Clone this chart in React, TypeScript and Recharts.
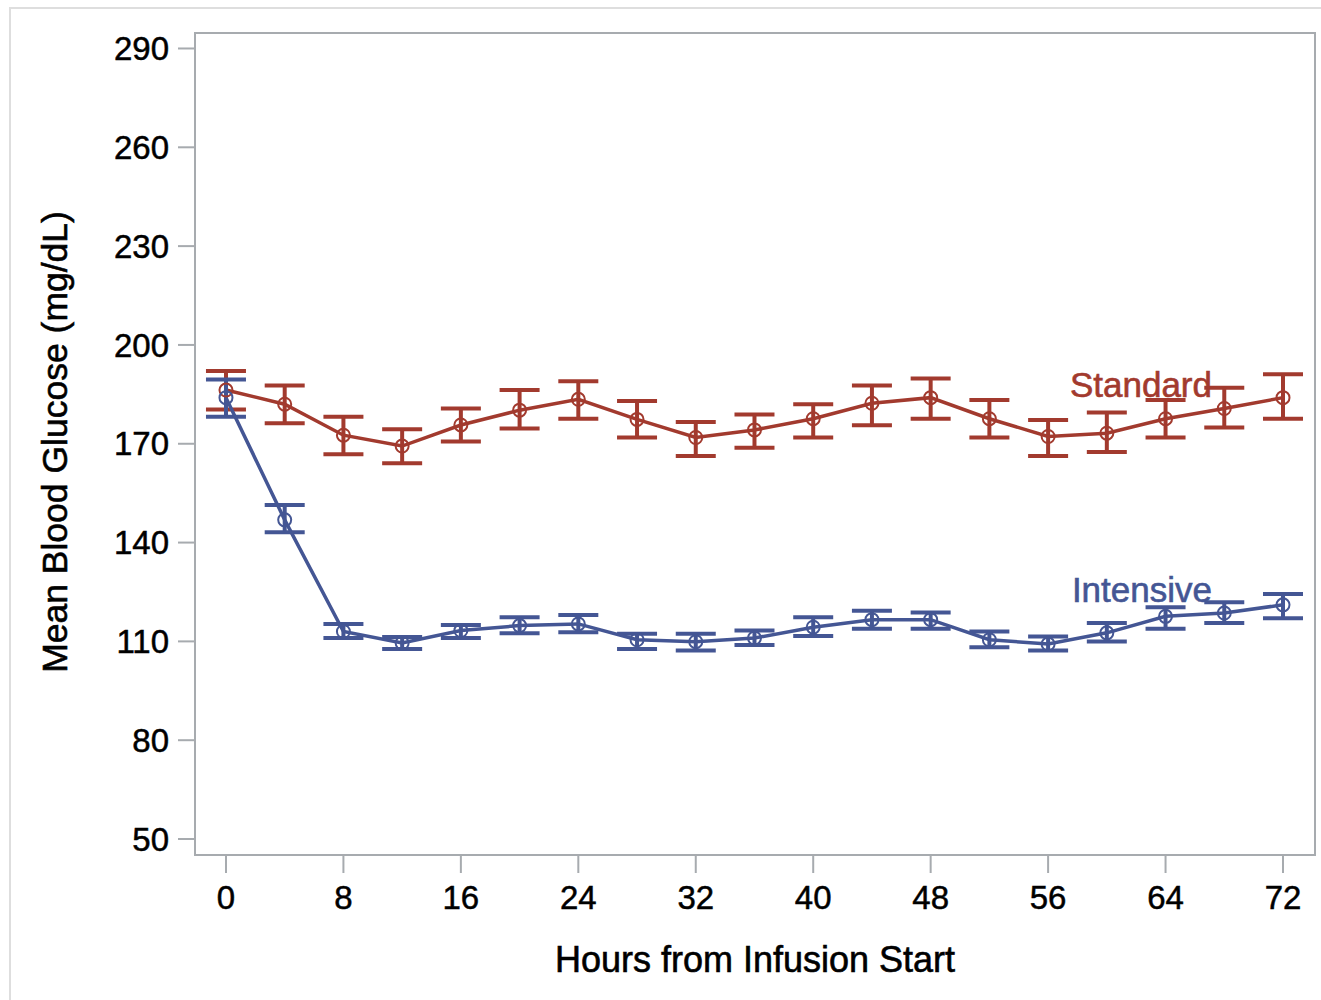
import React from "react";
import {
  ComposedChart,
  Line,
  ErrorBar,
  XAxis,
  YAxis,
  LabelList,
  ReferenceArea,
} from "recharts";

const hours = [0, 4, 8, 12, 16, 20, 24, 28, 32, 36, 40, 44, 48, 52, 56, 60, 64, 68, 72];

const standardMean = [186.3, 182.0, 172.6, 169.3, 175.7, 180.2, 183.5, 177.4, 171.9, 174.2, 177.6, 182.3, 184.0, 177.6, 172.2, 173.2, 177.6, 180.7, 184.0];
const standardLow = [180.4, 176.2, 166.8, 164.1, 170.7, 174.6, 177.6, 171.9, 166.3, 168.8, 171.9, 175.6, 177.6, 171.9, 166.3, 167.5, 171.9, 174.9, 177.6];
const standardHigh = [192.1, 187.7, 178.2, 174.4, 180.7, 186.3, 189.0, 183.0, 176.6, 178.9, 182.0, 187.7, 189.8, 183.3, 177.2, 179.5, 183.3, 187.0, 191.1];

const intensiveMean = [184.0, 146.9, 113.0, 109.5, 113.3, 114.8, 115.3, 110.5, 109.9, 111.0, 114.3, 116.6, 116.6, 110.5, 109.2, 112.6, 117.6, 118.6, 121.1];
const intensiveLow = [178.2, 143.1, 111.0, 107.7, 111.0, 112.5, 112.8, 107.7, 107.2, 108.9, 111.6, 113.8, 113.8, 108.2, 107.2, 110.0, 113.8, 115.6, 117.0];
const intensiveHigh = [189.5, 151.4, 115.3, 111.3, 115.0, 117.3, 118.0, 112.3, 112.3, 113.3, 117.3, 119.3, 118.8, 113.0, 111.5, 115.6, 120.4, 121.9, 124.4];

const yTicks = [50, 80, 110, 140, 170, 200, 230, 260, 290];
const xTicks = [0, 8, 16, 24, 32, 40, 48, 56, 64, 72];

const RED = "#A23A2E";
const BLUE = "#445694";
const FRAME = "#a7abaf";
const FONT = "'Liberation Sans', Arial, sans-serif";

const X_DOMAIN = [-2.11, 74.18];
const Y_DOMAIN = [45.15, 294.7];

const data = hours.map((h, i) => ({
  hour: h,
  standard: standardMean[i],
  standardErr: [standardMean[i] - standardLow[i], standardHigh[i] - standardMean[i]],
  intensive: intensiveMean[i],
  intensiveErr: [intensiveMean[i] - intensiveLow[i], intensiveHigh[i] - intensiveMean[i]],
}));

// curve label drawn only at the last point, to the left of it
const curveLabel = (text: string, color: string, dy: number) => (props: any) => {
  const { x, y, index } = props;
  if (index !== hours.length - 1) return null;
  return (
    <text
      x={x - 71}
      y={y + dy}
      textAnchor="end"
      fill={color}
      stroke={color}
      strokeWidth={0.6}
      fontSize={35}
      fontFamily={FONT}
    >
      {text}
    </text>
  );
};

const YLabel = (props: any) => {
  const vb = props.viewBox || { x: 0, y: 33, height: 823 };
  const cx = 55;
  const cy = vb.y + vb.height / 2 - 2;
  return (
    <text
      x={cx}
      y={cy}
      transform={`rotate(-90, ${cx}, ${cy})`}
      textAnchor="middle"
      dominantBaseline="central"
      fontSize={35.5}
      fontFamily={FONT}
      fill="#000"
      stroke="#000"
      strokeWidth={0.6}
    >
      Mean Blood Glucose (mg/dL)
    </text>
  );
};

const tickStyle = {
  fill: "#000",
  stroke: "#000",
  strokeWidth: 0.5,
  fontSize: 33,
  fontFamily: FONT,
};

export default function App(): JSX.Element {
  return (
    <div
      style={{
        position: "absolute",
        left: 0,
        top: 0,
        width: 1321,
        height: 1000,
        overflow: "hidden",
        background: "#fff",
      }}
    >
      <div
        style={{
          position: "absolute",
          left: 9,
          top: 7,
          width: 1400,
          height: 1100,
          border: "2px solid #dedede",
        }}
      />
      <div style={{ position: "absolute", left: 0, top: 0 }}>
        <ComposedChart
          width={1321}
          height={1000}
          data={data}
          margin={{ top: 33, right: 6, left: 0, bottom: 0 }}
        >
          <XAxis
            dataKey="hour"
            type="number"
            domain={X_DOMAIN}
            ticks={xTicks}
            height={145}
            tickSize={18}
            tickMargin={13}
            allowDataOverflow
            stroke={FRAME}
            strokeWidth={2}
            tick={tickStyle}
            label={{
              value: "Hours from Infusion Start",
              position: "insideBottom",
              offset: 28,
              fill: "#000",
              stroke: "#000",
              strokeWidth: 0.6,
              fontSize: 36,
              fontFamily: FONT,
            }}
          />
          <YAxis
            type="number"
            domain={Y_DOMAIN}
            ticks={yTicks}
            width={195}
            tickSize={17}
            tickMargin={9}
            allowDataOverflow
            stroke={FRAME}
            strokeWidth={2}
            tick={tickStyle}
            label={<YLabel />}
          />
          <ReferenceArea
            x1={X_DOMAIN[0]}
            x2={X_DOMAIN[1]}
            y1={Y_DOMAIN[0]}
            y2={Y_DOMAIN[1]}
            fill="none"
            stroke={FRAME}
            strokeWidth={2}
            ifOverflow="visible"
          />
          <Line
            type="linear"
            dataKey="standard"
            stroke={RED}
            strokeWidth={3.5}
            dot={{ r: 6.5, fill: "none", stroke: RED, strokeWidth: 2 }}
            activeDot={false}
            isAnimationActive={false}
          >
            <ErrorBar
              dataKey="standardErr"
              direction="y"
              width={20}
              stroke={RED}
              strokeWidth={4}
              isAnimationActive={false}
            />
            <LabelList dataKey="standard" content={curveLabel("Standard", RED, -1)} />
          </Line>
          <Line
            type="linear"
            dataKey="intensive"
            stroke={BLUE}
            strokeWidth={3.5}
            dot={{ r: 6.5, fill: "none", stroke: BLUE, strokeWidth: 2 }}
            activeDot={false}
            isAnimationActive={false}
          >
            <ErrorBar
              dataKey="intensiveErr"
              direction="y"
              width={20}
              stroke={BLUE}
              strokeWidth={4}
              isAnimationActive={false}
            />
            <LabelList dataKey="intensive" content={curveLabel("Intensive", BLUE, -3)} />
          </Line>
        </ComposedChart>
      </div>
    </div>
  );
}
